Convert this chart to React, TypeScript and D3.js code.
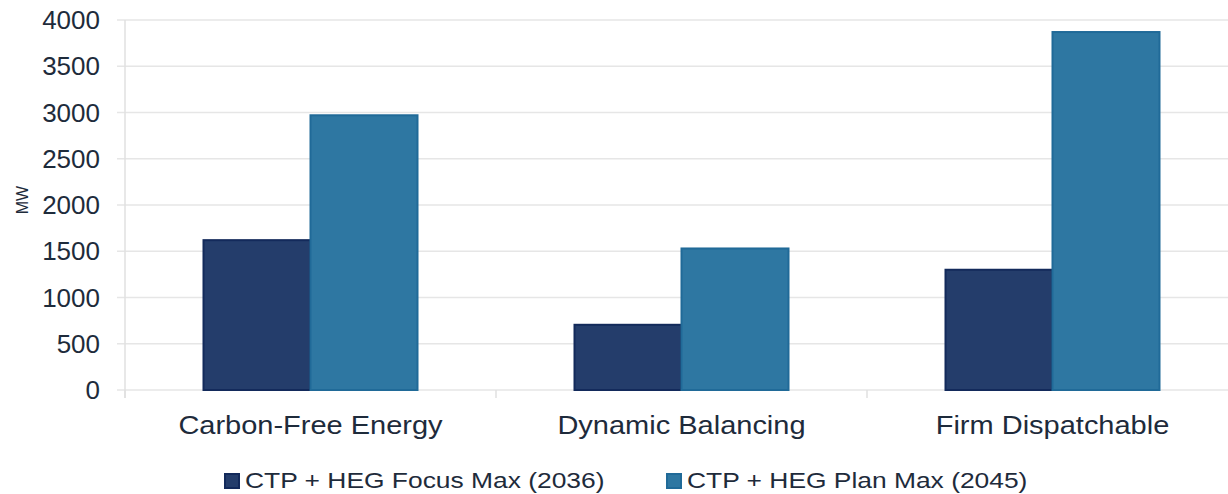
import React from "react";
import * as d3 from "d3";

const categories = ["Carbon-Free Energy", "Dynamic Balancing", "Firm Dispatchable"];
const seriesNames = ["CTP + HEG Focus Max (2036)", "CTP + HEG Plan Max (2045)"];
const focusMax2036 = [1620, 705, 1300];
const planMax2045 = [2970, 1530, 3870];
const yTicks = [0, 500, 1000, 1500, 2000, 2500, 3000, 3500, 4000];

const fills = ["#243d6b", "#2e77a2"];
const strokes = ["#132a5b", "#206a98"];
const textColor = "#1e2b3b";
const font = "'Liberation Sans', Arial, sans-serif";

// Text drawn with a horizontal stretch around its anchor point
function WideText(props: {
  x: number;
  y: number;
  sx: number;
  size: number;
  anchor?: "start" | "middle" | "end";
  dy?: string;
  children: React.ReactNode;
}) {
  const { x, y, sx, size, anchor = "start", dy, children } = props;
  return (
    <text
      transform={`translate(${x},${y}) scale(${sx},1)`}
      textAnchor={anchor}
      dy={dy}
      fontSize={size}
      fill={textColor}
    >
      {children}
    </text>
  );
}

export default function App() {
  const width = 1228;
  const height = 494;
  const left = 125;
  const right = 1238;
  const top = 20;
  const bottom = 390;

  const x = d3.scaleBand<string>().domain(categories).range([left, right]).paddingInner(0).paddingOuter(0);
  const barW = 107;
  const inner = d3
    .scaleBand<number>()
    .domain([0, 1])
    .range([0, x.bandwidth()])
    .paddingInner(0)
    .paddingOuter((x.bandwidth() - 2 * barW) / 2 / barW);
  const y = d3.scaleLinear().domain([0, 4000]).range([bottom, top]);

  const series = [focusMax2036, planMax2045];
  const boundaries = [...categories.map((c) => x(c) as number), right];

  return (
    <svg
      width={width}
      height={height}
      style={{ position: "absolute", left: 0, top: 0, display: "block", fontFamily: font }}
    >
      <rect width={width} height={height} fill="#ffffff" />
      {yTicks.map((t) => (
        <g key={t}>
          <line x1={117} x2={width} y1={y(t)} y2={y(t)} stroke="#e6e6e6" strokeWidth={1.5} />
          <WideText x={100} y={y(t)} sx={1.04} size={25} anchor="end" dy="0.36em">
            {t}
          </WideText>
        </g>
      ))}
      <line x1={left} x2={left} y1={top} y2={bottom + 8} stroke="#e0e0e0" strokeWidth={1.5} />
      {boundaries.map((b, i) => (
        <line key={i} x1={b} x2={b} y1={bottom} y2={bottom + 8} stroke="#e0e0e0" strokeWidth={1.5} />
      ))}
      {categories.map((c, ci) =>
        series.map((vals, si) => {
          const bx = (x(c) as number) + (inner(si) as number);
          return (
            <rect
              key={c + si}
              x={bx}
              y={y(vals[ci])}
              width={inner.bandwidth()}
              height={y(0) - y(vals[ci])}
              fill={fills[si]}
              stroke={strokes[si]}
              strokeWidth={2}
            />
          );
        })
      )}
      {categories.map((c) => (
        <WideText
          key={c}
          x={(x(c) as number) + x.bandwidth() / 2}
          y={434}
          sx={1.16}
          size={25}
          anchor="middle"
        >
          {c}
        </WideText>
      ))}
      <text transform="translate(28,200) rotate(-90)" textAnchor="middle" fontSize={16} fill={textColor}>
        MW
      </text>
      {seriesNames.map((name, i) => {
        const lx = [224, 666][i];
        return (
          <g key={name}>
            <rect x={lx + 1} y={474} width={14} height={14} fill={fills[i]} stroke={strokes[i]} strokeWidth={2} />
            <WideText x={lx + 21} y={488} sx={1.2} size={22}>
              {name}
            </WideText>
          </g>
        );
      })}
    </svg>
  );
}
